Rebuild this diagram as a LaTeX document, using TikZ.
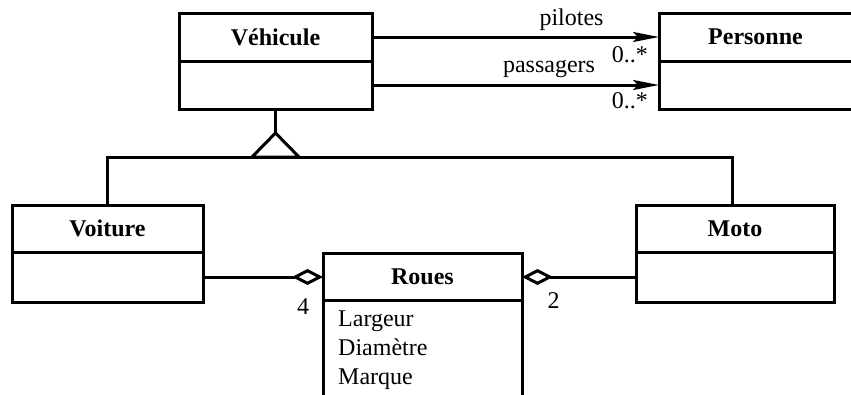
\documentclass[tikz,border=0pt]{standalone}
\usepackage{fontspec}
\setmainfont{Liberation Serif}
\usetikzlibrary{arrows.meta}
\begin{document}
\begin{tikzpicture}[x=1pt,y=-1pt,
  box/.style={draw, line width=3pt, rectangle, inner sep=0pt, outer sep=0pt,
    font=\fontsize{24}{28}\selectfont\bfseries},
  lbl/.style={font=\fontsize{24}{28}\selectfont, inner sep=0pt, anchor=base},
  conn/.style={line width=3pt},
  nav/.style={conn, -{Stealth[length=26pt,width=10pt,inset=5pt]}},
  agg/.style={conn, -{Diamond[open,length=31pt,width=16pt]}}]
\useasboundingbox (0,0) rectangle (851,394);
\clip (0,0) rectangle (851,394);
% Vehicule
\node[box, minimum width=193pt, minimum height=48pt] (veh) at (275.5,37) {Véhicule};
\node[box, minimum width=193pt, minimum height=48pt] (vehb) at (275.5,85) {};
% Personne
\node[box, minimum width=193pt, minimum height=48pt] (pers) at (755.5,37) {Personne};
\node[box, minimum width=193pt, minimum height=48pt] (persb) at (755.5,85) {};
% Voiture
\node[box, minimum width=191pt, minimum height=47pt] (voit) at (107.5,228.5) {Voiture};
\node[box, minimum width=191pt, minimum height=50pt] (voitb) at (107.5,277) {};
% Moto
\node[box, minimum width=198pt, minimum height=47pt] (moto) at (735,228.5) {Moto};
\node[box, minimum width=198pt, minimum height=50pt] (motob) at (735,277) {};
% Roues
\node[box, minimum width=199pt, minimum height=47pt] (roues) at (422.5,276.5) {Roues};
\node[box, minimum width=199pt, minimum height=130pt] (rouesb) at (422.5,365) {};
\node[lbl, anchor=base west] (a1) at (338,326) {Largeur};
\node[lbl, anchor=base west] (a2) at (338,355) {Diamètre};
\node[lbl, anchor=base west] (a3) at (338,384) {Marque};
% associations
\draw[nav] (veh.east) -- (pers.west);
\draw[nav] (vehb.east) -- (persb.west);
\node[lbl] (lp) at (571.5,25) {pilotes};
\node[lbl] (lpa) at (549,72) {passagers};
\node[lbl, anchor=base east] (m1) at (648,62) {0..*};
\node[lbl, anchor=base east] (m2) at (648,108) {0..*};
% generalization
\coordinate (apex) at (275.5,133);
\coordinate (bl) at (252,157);
\coordinate (br) at (299,157);
\coordinate (hl) at (107.5,157);
\coordinate (hr) at (732,157);
\draw[conn] (vehb.south) -- (apex);
\draw[conn, line join=miter] (apex) -- (bl) -- (br) -- cycle;
\draw[conn] (voit.north) -- (hl) -- (hr) -- (hr |- moto.north);
% aggregations
\draw[agg] (voitb.east) -- (voitb.east -| roues.west);
\draw[agg] (motob.west) -- (motob.west -| roues.east);
\node[lbl] (n4) at (303,314) {4};
\node[lbl] (n2) at (553.5,308) {2};
\end{tikzpicture}
\end{document}
